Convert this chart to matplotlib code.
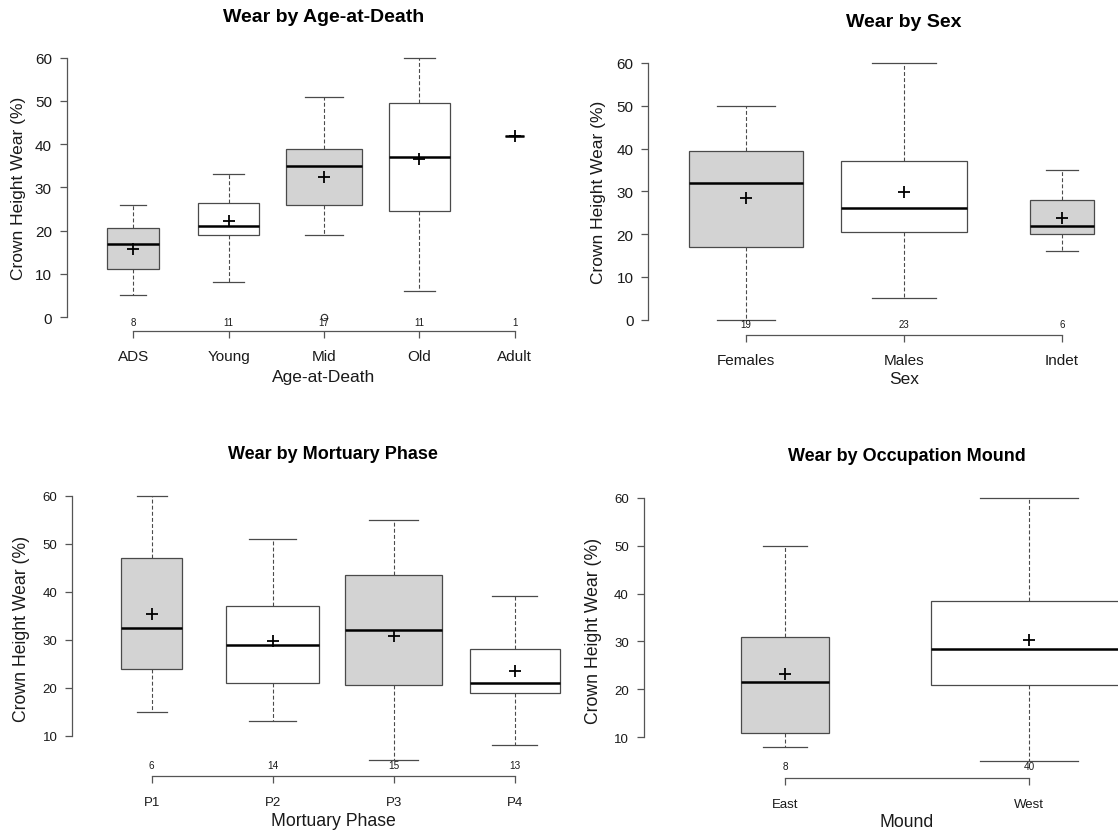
import numpy as np
import matplotlib.pyplot as plt
import matplotlib.transforms as mtransforms

plt.rcParams['font.family'] = ['Liberation Sans', 'DejaVu Sans']

W, H = 1118, 837

# wear by age-at-death
age_cats = ["ADS", "Young", "Mid", "Old", "Adult"]
age_n = [8, 11, 17, 11, 1]
age_low = [5, 8, 19, 6, 42]
age_q1 = [11, 19, 26, 24.5, 42]
age_med = [17, 21, 35, 37, 42]
age_q3 = [20.5, 26.5, 39, 49.5, 42]
age_high = [26, 33, 51, 60, 42]
age_mean = [15.8, 22.2, 32.5, 36.5, 42]
age_out = [[], [], [0], [], []]

# wear by sex
sex_cats = ["Females", "Males", "Indet"]
sex_n = [19, 23, 6]
sex_low = [0, 5, 16]
sex_q1 = [17, 20.5, 20]
sex_med = [32, 26, 22]
sex_q3 = [39.5, 37, 28]
sex_high = [50, 60, 35]
sex_mean = [28.4, 29.8, 23.8]
sex_out = [[], [], []]

# wear by mortuary phase
ph_cats = ["P1", "P2", "P3", "P4"]
ph_n = [6, 14, 15, 13]
ph_low = [15, 13, 5, 8]
ph_q1 = [24, 21, 20.5, 19]
ph_med = [32.5, 29, 32, 21]
ph_q3 = [47, 37, 43.5, 28]
ph_high = [60, 51, 55, 39]
ph_mean = [35.3, 29.7, 30.7, 23.5]
ph_out = [[], [], [], []]

# wear by occupation mound
md_cats = ["East", "West"]
md_n = [8, 40]
md_low = [8, 5]
md_q1 = [11, 21]
md_med = [21.5, 28.5]
md_q3 = [31, 38.5]
md_high = [50, 60]
md_mean = [23.2, 30.3]
md_out = [[], []]

fig = plt.figure(figsize=(W / 100, H / 100), dpi=100)

AXC = '#555555'
TXT = '#1a1a1a'
FILLS = ['#d3d3d3', 'white']


def panel(rect, title, xlabel, cats, n, low, q1, med, q3, high, mean, out,
          yticks, fs, offset, xpad, labx):
    l, t, r, b = rect
    ax = fig.add_axes([l / W, 1 - b / H, (r - l) / W, (b - t) / H])
    ax.set_facecolor('none')
    k = len(cats)
    pos = np.arange(1, k + 1)
    widths = 0.8 * np.sqrt(np.array(n) / max(n))
    stats = []
    for i in range(k):
        stats.append(dict(whislo=low[i], q1=q1[i], med=med[i], q3=q3[i],
                          whishi=high[i], mean=mean[i], fliers=out[i]))
    bp = ax.bxp(stats, positions=pos, widths=widths, capwidths=widths / 2,
                patch_artist=True, showmeans=True, manage_ticks=False,
                boxprops=dict(edgecolor='#4a4a4a', linewidth=0.9),
                medianprops=dict(color='black', linewidth=1.8),
                whiskerprops=dict(color='#4a4a4a', linewidth=0.8,
                                  linestyle=(0, (3.5, 2))),
                capprops=dict(color='#4a4a4a', linewidth=0.9),
                meanprops=dict(marker='+', markersize=9, markeredgewidth=1.3,
                               markeredgecolor='black', markerfacecolor='black'),
                flierprops=dict(marker='o', markersize=4.5, markerfacecolor='none',
                                markeredgecolor='#333333', markeredgewidth=0.8))
    for i, box in enumerate(bp['boxes']):
        box.set_facecolor(FILLS[i % 2])

    ax.set_xlim(0.5 - 0.04 * k, k + 0.5 + 0.04 * k)
    lo = min(min(low), min([min(o) for o in out if o] or [min(low)]))
    hi = max(high)
    ax.set_ylim(lo - 0.04 * (hi - lo), hi + 0.04 * (hi - lo))

    for s in ['top', 'right']:
        ax.spines[s].set_visible(False)
    ax.spines['left'].set_bounds(yticks[0], yticks[-1])
    ax.spines['bottom'].set_bounds(1, k)
    ax.spines['bottom'].set_position(('outward', offset))
    for s in ['left', 'bottom']:
        ax.spines[s].set_color(AXC)
        ax.spines[s].set_linewidth(0.9)

    ax.set_yticks(yticks)
    ax.set_xticks(pos)
    ax.set_xticklabels(cats)
    ax.tick_params(axis='y', length=5, width=0.9, color=AXC, pad=5.5,
                   labelsize=fs[0], labelcolor=TXT)
    ax.tick_params(axis='x', length=5, width=0.9, color=AXC, pad=xpad,
                   labelsize=fs[1], labelcolor=TXT)

    trans = mtransforms.blended_transform_factory(ax.transData, ax.transAxes)
    for p, c in zip(pos, n):
        ax.text(p, 0.02, str(c), transform=trans, ha='center', va='center',
                fontsize=fs[4], color=TXT)

    ax.set_xlabel(xlabel, fontsize=fs[2], color=TXT)
    ax.xaxis.set_label_coords(0.5, -0.175)
    ax.xaxis.label.set_va('center')
    ax.set_ylabel("Crown Height Wear (%)", fontsize=fs[2], color=TXT)
    ax.yaxis.set_label_coords(labx, 0.5)
    ax.yaxis.label.set_va('center')
    ax.set_title(title, fontsize=fs[3], fontweight='bold', color='black',
                 y=1.112, va='center', pad=0)
    return ax


fs_top = (11, 11, 12.5, 14, 7)
fs_bot = (9.5, 9.5, 12.7, 13, 7.2)

panel((66.5, 48.4, 581.3, 328.4), "Wear by Age-at-Death", "Age-at-Death",
      age_cats, age_n, age_low, age_q1, age_med, age_q3, age_high, age_mean, age_out,
      [0, 10, 20, 30, 40, 50, 60], fs_top, 2.8, 8, -0.093)
panel((648, 53.7, 1160, 331), "Wear by Sex", "Sex",
      sex_cats, sex_n, sex_low, sex_q1, sex_med, sex_q3, sex_high, sex_mean, sex_out,
      [0, 10, 20, 30, 40, 50, 60], fs_top, 3.6, 8.3, -0.096)
panel((72, 486.1, 594.4, 771.3), "Wear by Mortuary Phase", "Mortuary Phase",
      ph_cats, ph_n, ph_low, ph_q1, ph_med, ph_q3, ph_high, ph_mean, ph_out,
      [10, 20, 30, 40, 50, 60], fs_bot, 3.9, 9.6, -0.097)
panel((643.5, 488.2, 1170.5, 772.8), "Wear by Occupation Mound", "Mound",
      md_cats, md_n, md_low, md_q1, md_med, md_q3, md_high, md_mean, md_out,
      [10, 20, 30, 40, 50, 60], fs_bot, 4.5, 9.4, -0.094)

fig.savefig("out.png", dpi=100)
